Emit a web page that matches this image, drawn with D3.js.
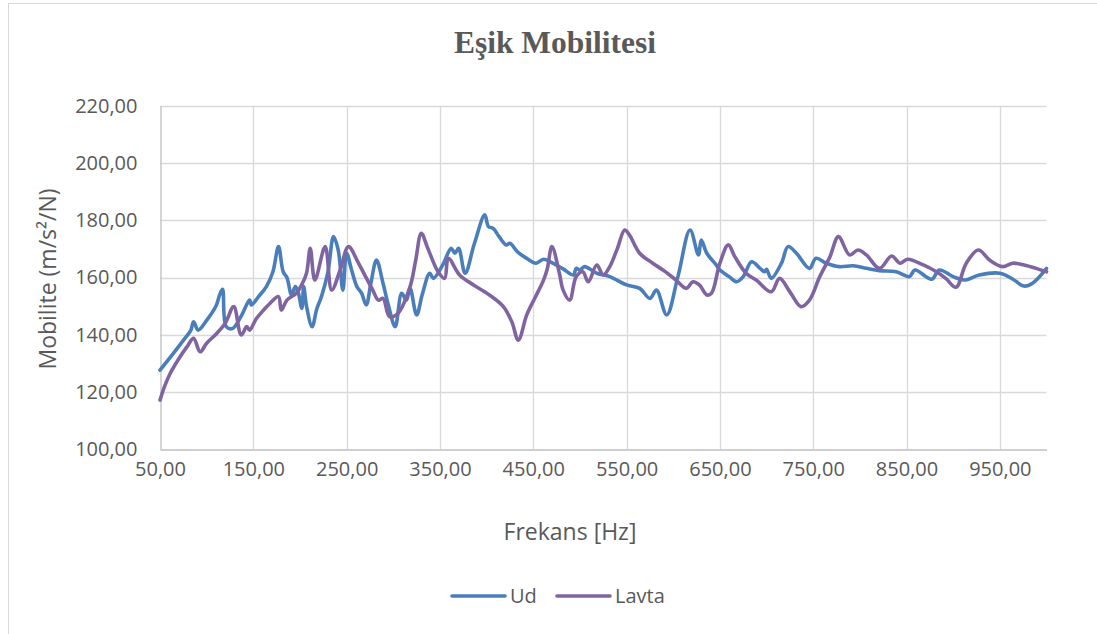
<!DOCTYPE html>
<html>
<head>
<meta charset="utf-8">
<script src="https://cdn.jsdelivr.net/npm/d3@7"></script>
<style>
  html, body { margin: 0; padding: 0; background: #fff; }
  svg { display: block; }
</style>
</head>
<body>
<svg id="chart" width="1097" height="634"></svg>
<script>
// Frequency axis (Hz) and mobility readings for each instrument
const udFreq = [50, 62, 75, 83, 86, 91, 100, 110, 114, 117, 121, 128, 137, 146, 148, 156, 164, 171, 177, 182, 186, 191, 195, 198, 202, 204, 207, 213, 218, 223, 230, 236, 241, 246, 250, 255, 261, 266, 271, 276, 282, 289, 295, 302, 309, 314, 318, 325, 331, 339, 343, 353, 362, 366, 370, 377, 387, 398, 402, 407, 414, 421, 425, 433, 443, 453, 461, 471, 482, 493, 496, 500, 505, 518, 532, 540, 550, 564, 575, 582, 593, 605, 618, 627, 630, 636, 646, 650, 660, 668, 675, 684, 693, 698, 700, 705, 716, 723, 732, 746, 753, 764, 778, 793, 807, 821, 839, 853, 859, 877, 885, 900, 912, 928, 950, 964, 976, 985, 1000];
const udValues = [127.6, 132.5, 138.0, 141.5, 144.5, 141.6, 145.0, 150.0, 154.0, 155.9, 142.8, 142.2, 146.5, 152.1, 150.4, 153.5, 156.8, 162.0, 170.8, 162.0, 160.0, 153.9, 156.8, 155.0, 149.2, 156.8, 150.0, 142.8, 149.0, 153.3, 162.0, 174.3, 169.6, 155.6, 168.5, 163.0, 156.8, 154.5, 150.4, 158.0, 166.1, 158.0, 150.0, 142.8, 154.5, 152.1, 156.2, 146.9, 154.0, 161.5, 159.7, 164.4, 170.2, 168.5, 170.2, 161.5, 172.0, 181.9, 177.8, 177.2, 174.0, 171.4, 172.0, 169.0, 166.7, 165.0, 166.4, 165.0, 163.0, 160.9, 163.2, 162.6, 163.8, 161.5, 160.3, 159.0, 157.4, 156.2, 152.7, 155.6, 146.9, 160.3, 176.6, 167.9, 173.1, 168.5, 164.4, 162.6, 160.3, 158.5, 160.3, 165.5, 163.2, 162.0, 162.9, 159.7, 165.0, 170.8, 168.5, 163.2, 166.7, 165.0, 163.8, 164.1, 163.2, 162.4, 162.0, 160.3, 162.6, 159.4, 162.6, 160.3, 159.1, 160.9, 161.5, 159.4, 157.0, 158.0, 163.2];

const lavtaFreq = [50, 55, 61, 70, 79, 86, 93, 100, 111, 120, 129, 137, 143, 146, 153, 161, 168, 177, 180, 186, 196, 202, 207, 211, 216, 227, 234, 243, 252, 262, 270, 278, 284, 289, 296, 305, 318, 324, 330, 337, 348, 355, 359, 371, 386, 403, 418, 427, 434, 443, 452, 461, 465, 470, 478, 482, 489, 496, 503, 509, 518, 525, 532, 540, 548, 553, 564, 578, 589, 603, 614, 621, 628, 636, 641, 650, 659, 666, 678, 689, 705, 714, 725, 737, 746, 757, 768, 777, 789, 798, 807, 821, 834, 843, 851, 868, 882, 892, 903, 914, 927, 939, 953, 964, 976, 989, 1000];
const lavtaValues = [117.1, 122.0, 126.5, 131.5, 135.8, 138.7, 134.0, 137.0, 140.5, 144.0, 149.8, 139.9, 142.8, 141.6, 145.5, 148.6, 151.0, 153.3, 148.6, 152.1, 154.5, 157.5, 161.5, 170.2, 159.1, 170.8, 155.6, 162.6, 170.8, 165.5, 160.5, 155.6, 152.1, 152.7, 146.3, 147.5, 156.8, 166.0, 175.5, 170.2, 162.0, 159.7, 166.7, 160.9, 157.4, 153.9, 149.8, 144.5, 138.1, 146.9, 153.0, 159.1, 163.0, 170.8, 161.5, 155.6, 152.1, 160.3, 162.0, 158.5, 164.4, 160.9, 163.8, 170.0, 176.6, 174.9, 168.5, 165.0, 162.6, 159.1, 156.2, 158.5, 157.4, 153.9, 154.5, 165.0, 171.4, 167.3, 161.5, 159.1, 155.0, 159.7, 155.0, 149.8, 152.1, 160.3, 167.3, 174.3, 167.9, 169.6, 167.9, 163.2, 167.5, 165.0, 166.4, 164.4, 162.0, 159.7, 156.6, 165.0, 169.6, 166.1, 163.8, 165.0, 164.4, 163.2, 162.0];

const xTicks = [50, 150, 250, 350, 450, 550, 650, 750, 850, 950];
const yTicks = [100, 120, 140, 160, 180, 200, 220];

const seriesNames = ["Ud", "Lavta"];
const seriesColors = ["#4A7EBB", "#8064A2"];

const chartTitle = "Eşik Mobilitesi";
const xTitle = "Frekans [Hz]";
const yTitle = "Mobilite (m/s²/N)";

// Layout
const plot = { left: 160, right: 1046.5, top: 106, bottom: 449 };
const textColor = "#595959";
const font = "'Open Sans', 'Noto Sans', sans-serif";

const svg = d3.select("#chart");

const x = d3.scaleLinear().domain([50, 1000]).range([plot.left, plot.right]);
const y = d3.scaleLinear().domain([100, 220]).range([plot.bottom, plot.top]);

const fmt = v => d3.format(".2f")(v).replace(".", ",");

// Chart area frame
svg.append("rect")
  .attr("x", 8.5).attr("y", 3.5)
  .attr("width", 1100).attr("height", 640)
  .attr("fill", "#fff").attr("stroke", "#d9d9d9").attr("stroke-width", 1);

// Gridlines
const grid = svg.append("g");
grid.selectAll("line.h").data(yTicks.slice(1)).join("line")
  .attr("x1", plot.left).attr("x2", plot.right)
  .attr("y1", d => Math.round(y(d)) + 0.5).attr("y2", d => Math.round(y(d)) + 0.5)
  .attr("stroke", "#d9d9d9").attr("stroke-width", 1.3);
grid.selectAll("line.v").data(xTicks.slice(1)).join("line")
  .attr("y1", plot.top).attr("y2", plot.bottom)
  .attr("x1", d => Math.round(x(d)) + 0.5).attr("x2", d => Math.round(x(d)) + 0.5)
  .attr("stroke", "#d9d9d9").attr("stroke-width", 1.3);

// Axes
const xAxis = d3.axisBottom(x).tickValues(xTicks).tickFormat(fmt).tickSize(0).tickPadding(12);
const yAxis = d3.axisLeft(y).tickValues(yTicks).tickFormat(fmt).tickSize(0).tickPadding(23);

const gx = svg.append("g").attr("transform", `translate(0,${Math.round(plot.bottom) + 0.5})`).call(xAxis);
gx.select(".domain").attr("stroke", "#bfbfbf").attr("stroke-width", 1.3);
gx.selectAll("text").attr("fill", textColor).style("font-family", font).style("font-size", "20px");

const gy = svg.append("g").attr("transform", `translate(${plot.left + 0.5},0)`).call(yAxis);
gy.select(".domain").attr("stroke", "#bfbfbf").attr("stroke-width", 1.3);
gy.selectAll("text").attr("fill", textColor).style("font-family", font).style("font-size", "20px");

// Series lines
const line = d3.line()
  .x(d => x(d[0]))
  .y(d => y(d[1]))
  .curve(d3.curveCatmullRom.alpha(0.5));

const series = [
  { name: seriesNames[0], color: seriesColors[0], pts: d3.zip(udFreq, udValues) },
  { name: seriesNames[1], color: seriesColors[1], pts: d3.zip(lavtaFreq, lavtaValues) }
];

svg.append("g").selectAll("path").data(series).join("path")
  .attr("d", d => line(d.pts))
  .attr("fill", "none")
  .attr("stroke", d => d.color)
  .attr("stroke-width", 3.6)
  .attr("stroke-linejoin", "round")
  .attr("stroke-linecap", "round");

// Title
svg.append("text")
  .attr("x", 555).attr("y", 53)
  .attr("text-anchor", "middle")
  .attr("fill", textColor)
  .style("font-family", "'Liberation Serif', 'Times New Roman', serif")
  .style("font-weight", "bold")
  .style("font-size", "31.5px")
  .text(chartTitle);

// Axis titles
svg.append("text")
  .attr("x", 570).attr("y", 540)
  .attr("text-anchor", "middle")
  .attr("fill", textColor)
  .style("font-family", font).style("font-size", "23px")
  .text(xTitle);

svg.append("text")
  .attr("transform", "translate(56,279) rotate(-90)")
  .attr("text-anchor", "middle")
  .attr("fill", textColor)
  .style("font-family", font).style("font-size", "23px")
  .text(yTitle);

// Legend
const legend = svg.append("g");
const legendItems = [
  { name: seriesNames[0], color: seriesColors[0], x: 452 },
  { name: seriesNames[1], color: seriesColors[1], x: 557 }
];
legendItems.forEach(d => {
  legend.append("line")
    .attr("x1", d.x).attr("x2", d.x + 53)
    .attr("y1", 596).attr("y2", 596)
    .attr("stroke", d.color).attr("stroke-width", 3.6)
    .attr("stroke-linecap", "round");
  legend.append("text")
    .attr("x", d.x + 58).attr("y", 603)
    .attr("fill", textColor)
    .style("font-family", font).style("font-size", "20px")
    .text(d.name);
});
</script>
</body>
</html>
